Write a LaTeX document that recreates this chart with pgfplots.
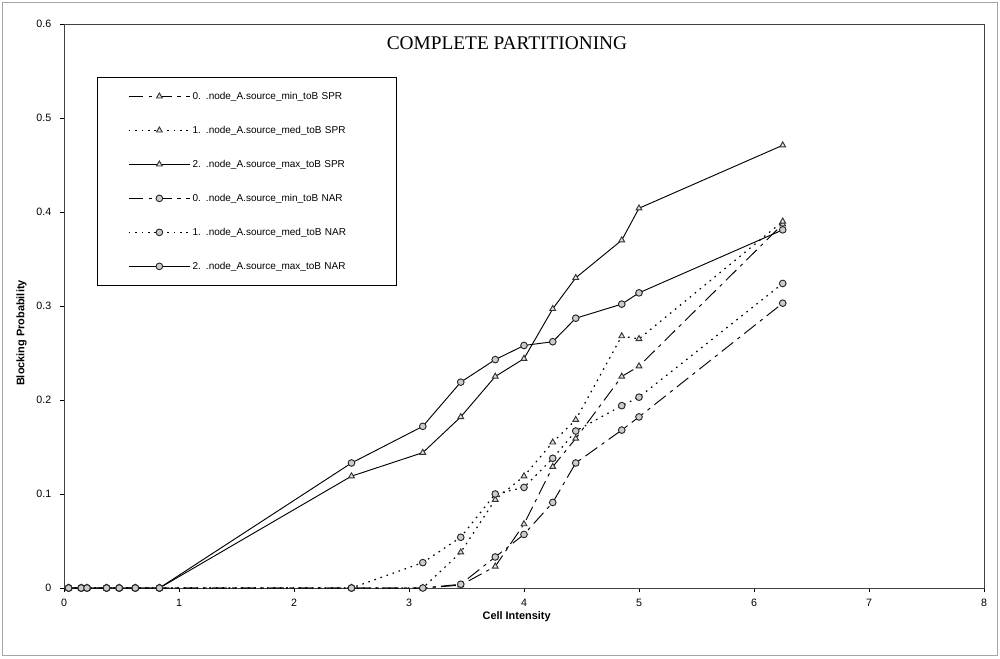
\documentclass[border=0pt]{standalone}
\usepackage{pgfplots}
\pgfplotsset{compat=1.18}
\usepackage{fontspec}
\setmainfont{Liberation Sans}
\newfontfamily\titlefont{Liberation Serif}
\begin{document}
\begin{tikzpicture}[x=1pt,y=1pt]
\useasboundingbox (0,0) rectangle (750,493.5);
\draw[gray!70, line width=0.6pt] (2,2) rectangle (748,491.5);
\begin{axis}[
  at={(48pt,52.5pt)}, anchor=south west,
  scale only axis, width=690pt, height=423pt,
  xmin=0, xmax=8, ymin=0, ymax=0.6,
  xtick={0,1,2,3,4,5,6,7,8},
  ytick={0,0.1,0.2,0.3,0.4,0.5,0.6},
  yticklabels={0,0.1,0.2,0.3,0.4,0.5,0.6},
  tick pos=left,
  tick align=outside, major tick length=3pt,
  tick style={black, line width=0.5pt},
  axis line style={black!75, line width=0.6pt},
  tick label style={font=\fontsize{8}{9}\selectfont},
  /pgf/number format/assume math mode=true,
  yticklabel style={xshift=-3pt},
  xticklabel style={yshift=-2pt},
  xlabel={Cell Intensity},
  ylabel={Blocking Probability},
  label style={font=\bfseries\fontsize{8.2}{9}\selectfont},
  xlabel style={at={(axis description cs:0.492,-0.05)}, anchor=center},
  ylabel style={at={(axis description cs:-0.046,0.452)}, anchor=center, rotate=0},
  legend cell align=left,
  legend style={at={(axis description cs:0.036,0.906)}, anchor=north west,
    draw=black, line width=0.5pt, inner xsep=23pt, inner ysep=9pt,
    font=\fontsize{7.5}{9}\selectfont, row sep=15pt,
    nodes={inner sep=1.5pt, text height=6pt, text depth=1.5pt, text width=128pt}},
  legend image code/.code={
    \draw[mark repeat=2, mark phase=2] plot coordinates {(0pt,0pt) (23pt,0pt) (46pt,0pt)};},
  every axis plot/.append style={line width=0.7pt, black, mark size=2.5pt},
]
% min SPR
\addplot[dash pattern=on 11pt off 4pt on 2.5pt off 4pt, mark=triangle*, mark options={solid, fill=gray!25, draw=black!80}] coordinates {
(0.04,0) (0.15,0) (0.2,0) (0.37,0) (0.48,0) (0.62,0) (0.83,0) (2.5,0) (3.12,0) (3.45,0.003) (3.75,0.023) (4.0,0.068) (4.25,0.129) (4.45,0.159) (4.85,0.225) (5.0,0.236) (6.25,0.387)};
\addlegendentry{\makebox[10pt][l]{0.}.node\_A.source\_min\_toB SPR}
% med SPR
\addplot[dash pattern=on 1.2pt off 3.6pt, line width=0.9pt, mark=triangle*, mark options={solid, fill=gray!25, draw=black!80, line width=0.7pt}] coordinates {
(0.04,0) (0.15,0) (0.2,0) (0.37,0) (0.48,0) (0.62,0) (0.83,0) (2.5,0) (3.12,0) (3.45,0.038) (3.75,0.094) (4.0,0.119) (4.25,0.155) (4.45,0.179) (4.85,0.268) (5.0,0.265) (6.25,0.39)};
\addlegendentry{\makebox[10pt][l]{1.}.node\_A.source\_med\_toB SPR}
% max SPR
\addplot[solid, mark=triangle*, mark options={solid, fill=gray!25, draw=black!80}] coordinates {
(0.04,0) (0.15,0) (0.2,0) (0.37,0) (0.48,0) (0.62,0) (0.83,0) (2.5,0.119) (3.12,0.144) (3.45,0.182) (3.75,0.225) (4.0,0.244) (4.25,0.297) (4.45,0.330) (4.85,0.370) (5.0,0.404) (6.25,0.471)};
\addlegendentry{\makebox[10pt][l]{2.}.node\_A.source\_max\_toB SPR}
% min NAR
\addplot[dash pattern=on 11pt off 4pt on 2.5pt off 4pt, mark=*, mark options={solid, fill=gray!40, draw=black!85}] coordinates {
(0.04,0) (0.15,0) (0.2,0) (0.37,0) (0.48,0) (0.62,0) (0.83,0) (2.5,0) (3.12,0) (3.45,0.004) (3.75,0.033) (4.0,0.057) (4.25,0.091) (4.45,0.133) (4.85,0.168) (5.0,0.182) (6.25,0.303)};
\addlegendentry{\makebox[10pt][l]{0.}.node\_A.source\_min\_toB NAR}
% med NAR
\addplot[dash pattern=on 1.2pt off 3.6pt, line width=0.9pt, mark=*, mark options={solid, fill=gray!40, draw=black!85, line width=0.7pt}] coordinates {
(0.04,0) (0.15,0) (0.2,0) (0.37,0) (0.48,0) (0.62,0) (0.83,0) (2.5,0) (3.12,0.027) (3.45,0.054) (3.75,0.100) (4.0,0.107) (4.25,0.138) (4.45,0.167) (4.85,0.194) (5.0,0.203) (6.25,0.324)};
\addlegendentry{\makebox[10pt][l]{1.}.node\_A.source\_med\_toB NAR}
% max NAR
\addplot[solid, mark=*, mark options={solid, fill=gray!40, draw=black!85}] coordinates {
(0.04,0) (0.15,0) (0.2,0) (0.37,0) (0.48,0) (0.62,0) (0.83,0) (2.5,0.133) (3.12,0.172) (3.45,0.219) (3.75,0.243) (4.0,0.258) (4.25,0.262) (4.45,0.287) (4.85,0.302) (5.0,0.314) (6.25,0.381)};
\addlegendentry{\makebox[10pt][l]{2.}.node\_A.source\_max\_toB NAR}
\node[font=\titlefont\fontsize{14.5}{16}\selectfont, anchor=center] at (axis description cs:0.4815,0.966) {COMPLETE PARTITIONING};
\end{axis}
\end{tikzpicture}
\end{document}
